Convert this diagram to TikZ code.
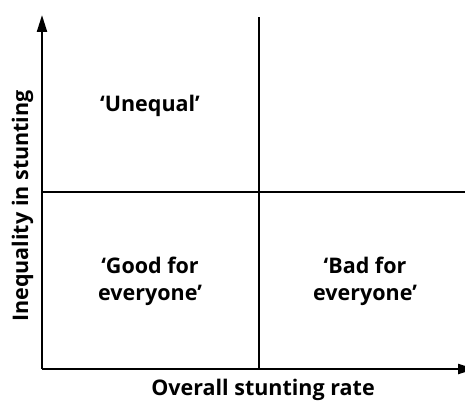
\documentclass[tikz,border=0pt]{standalone}
\usepackage{fontspec}
\setmainfont{Open Sans}
\usetikzlibrary{arrows.meta, positioning}

\begin{document}
\begin{tikzpicture}[x=1pt, y=1pt,
  axis/.style={line width=2.2pt, -{Triangle[length=17pt, width=10pt]}},
  divider/.style={line width=1.1pt},
  quadtext/.style={font=\bfseries\fontsize{21.5}{27}\selectfont, align=center, anchor=base, inner sep=0pt},
  axistext/.style={font=\bfseries\fontsize{21.5}{22}\selectfont, anchor=base, inner sep=0pt}]
 \useasboundingbox (0,0) rectangle (465,400);
 \coordinate (origin) at (42,31);
 \coordinate (ytip) at (42,385);
 \coordinate (xtip) at (475,31);
 \coordinate (midtop) at (259,383);
 \coordinate (midbot) at (259,31);
 \coordinate (midleft) at (42,208);
 \coordinate (midright) at (465,208);
 % quadrant dividers
 \draw[divider] (midbot) -- (midtop);
 \draw[divider] (midleft) -- (midright);
 % axes
 \draw[axis] (origin) -- (ytip);
 \draw[axis] (origin) -- (xtip);
 \node[axistext] (xlabel) at (263,5) {Overall stunting rate};
 \node[axistext, rotate=90] (ylabel) at (28,194) {Inequality in stunting};
 % quadrant labels
 \node[quadtext] (unequal) at (150,289) {‘Unequal’};
 \node[quadtext] (good) at (150,100) {‘Good for\\everyone’};
 \node[quadtext] (bad) at (365,100) {‘Bad for\\everyone’};
\end{tikzpicture}
\end{document}
